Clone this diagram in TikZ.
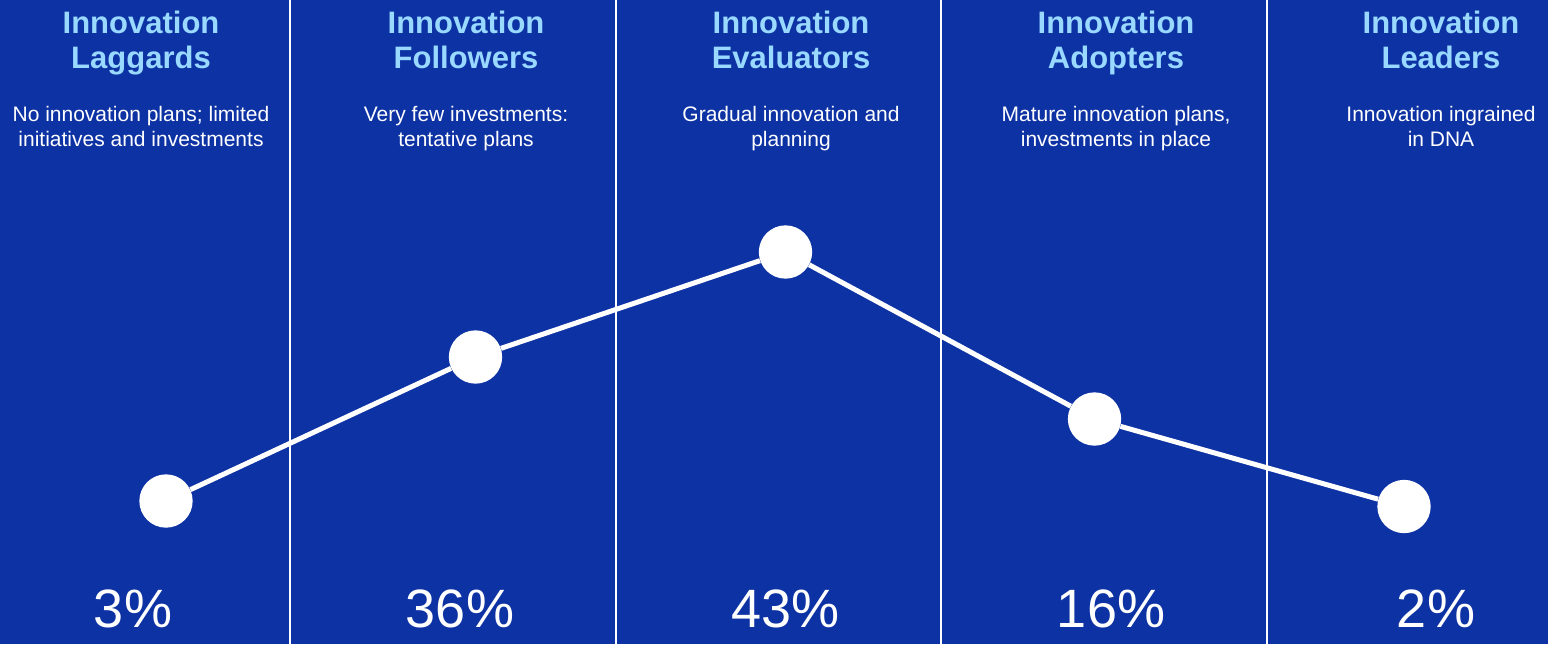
\documentclass[tikz,border=0pt]{standalone}
\usepackage{fontspec}
\setmainfont{Liberation Sans}
\definecolor{bgblue}{HTML}{0D32A3}
\definecolor{ttlblue}{HTML}{99D8FF}
\begin{document}
\begin{tikzpicture}[x=0.75pt,y=-0.75pt,
  ttl/.style={anchor=base,inner sep=0pt,text=ttlblue,font=\fontsize{23.25pt}{27pt}\selectfont\bfseries},
  dsc/.style={anchor=base,inner sep=0pt,text=white,font=\fontsize{15.75pt}{19pt}\selectfont},
  pct/.style={anchor=base,inner sep=0pt,text=white,font=\fontsize{40.5pt}{48pt}\selectfont},
  sep/.style={draw=white,line width=1.5pt},
  dot/.style={circle,fill=white,inner sep=0pt,minimum size=40pt},
  conn/.style={draw=white,line width=3.75pt}]
\fill[bgblue] (0,0) rectangle (1548,644);
\useasboundingbox (0,0) rectangle (1548,644);
% separators
\foreach \i/\xx in {1/290,2/615.5,3/941,4/1266.5}{
  \coordinate (s\i t) at (\xx,0);
  \coordinate (s\i b) at (\xx,644);
  \draw[sep] (s\i t) -- (s\i b);
}
% titles
\node[ttl] (t1a) at (141,33) {Innovation};
\node[ttl] (t1b) at (141,68) {Laggards};
\node[ttl] (t2a) at (466,33) {Innovation};
\node[ttl] (t2b) at (466,68) {Followers};
\node[ttl] (t3a) at (791,33) {Innovation};
\node[ttl] (t3b) at (791,68) {Evaluators};
\node[ttl] (t4a) at (1116,33) {Innovation};
\node[ttl] (t4b) at (1116,68) {Adopters};
\node[ttl] (t5a) at (1441,33) {Innovation};
\node[ttl] (t5b) at (1441,68) {Leaders};
% descriptions
\node[dsc] (d1a) at (141,121) {No innovation plans; limited};
\node[dsc] (d1b) at (141,146) {initiatives and investments};
\node[dsc] (d2a) at (466,121) {Very few investments:};
\node[dsc] (d2b) at (466,146) {tentative plans};
\node[dsc] (d3a) at (791,121) {Gradual innovation and};
\node[dsc] (d3b) at (791,146) {planning};
\node[dsc] (d4a) at (1116,121) {Mature innovation plans,};
\node[dsc] (d4b) at (1116,146) {investments in place};
\node[dsc] (d5a) at (1441,121) {Innovation ingrained};
\node[dsc] (d5b) at (1441,146) {in DNA};
% dots
\node[dot] (p1) at (166,501) {};
\node[dot] (p2) at (475.5,357) {};
\node[dot] (p3) at (785.5,252) {};
\node[dot] (p4) at (1094.5,419) {};
\node[dot] (p5) at (1404,506.5) {};
\draw[conn] (p1) -- (p2);
\draw[conn] (p2) -- (p3);
\draw[conn] (p3) -- (p4);
\draw[conn] (p4) -- (p5);
% percentages
\node[pct] (v1) at (133,627) {3\%};
\node[pct] (v2) at (460,627) {36\%};
\node[pct] (v3) at (785.5,627) {43\%};
\node[pct] (v4) at (1111,627) {16\%};
\node[pct] (v5) at (1436,627) {2\%};
\end{tikzpicture}
\end{document}
